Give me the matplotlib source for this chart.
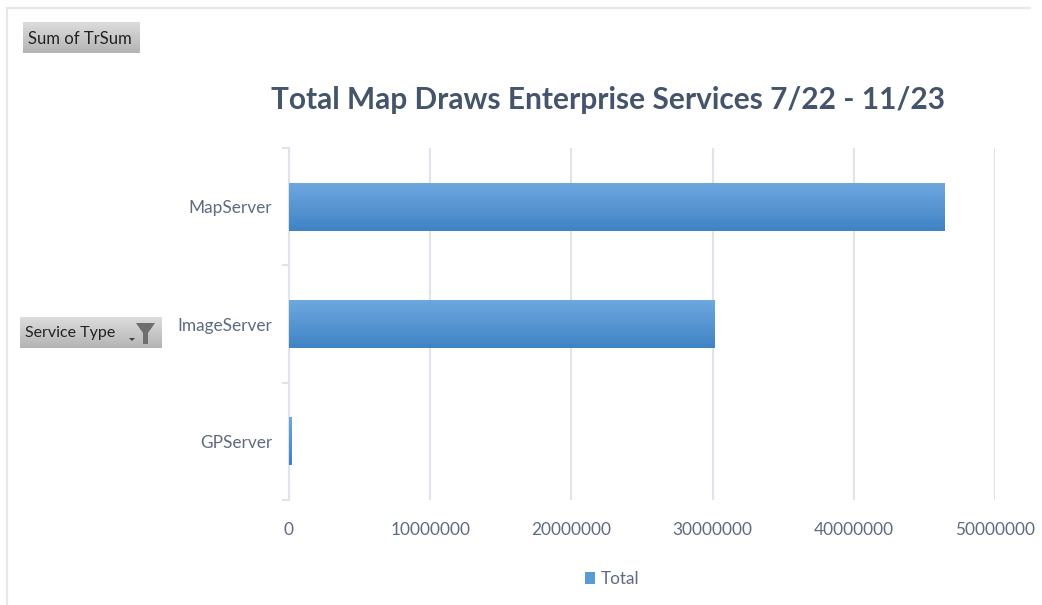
#!/usr/bin/env python3

import numpy as np
import matplotlib
matplotlib.use('Agg')
import matplotlib.pyplot as plt
from matplotlib.colors import LinearSegmentedColormap
from matplotlib.patches import Polygon, Rectangle
from matplotlib.lines import Line2D

W, H = 1042, 605

# Data
services = ['GPServer', 'ImageServer', 'MapServer']
trsum = [150000, 30100000, 46400000]
x_ticks = [0, 10000000, 20000000, 30000000, 40000000, 50000000]
title = 'Total Map Draws Enterprise Services 7/22 - 11/23'
series_name = 'Total'

TEXT = '#5d6b80'
GRID = '#dfe3ec'
bar_cmap = LinearSegmentedColormap.from_list('bar', ['#6fa8e0', '#3f83c4'])
btn_cmap = LinearSegmentedColormap.from_list('btn', ['#dcdcdc', '#b4b4b4'])
grad = np.linspace(0, 1, 64).reshape(-1, 1)

plt.rcParams['font.family'] = ['Lato', 'DejaVu Sans']


def px_rect(x0, y0, x1, y1):
    # pixel box (top-left origin) to figure fractions
    return [x0 / W, 1 - y1 / H, (x1 - x0) / W, (y1 - y0) / H]


fig = plt.figure(figsize=(W / 100, H / 100), dpi=100)
ax = fig.add_axes(px_rect(289, 148, 995, 500))

# Bars, with the vertical gradient clipped to each bar
bars = ax.barh(range(len(services)), trsum, height=0.41, color='none', zorder=3)
for b in bars:
    im = ax.imshow(grad, cmap=bar_cmap, aspect='auto', zorder=3,
                   extent=(b.get_x(), b.get_x() + b.get_width(),
                           b.get_y(), b.get_y() + b.get_height()))
    im.set_clip_path(b)

ax.set_xlim(0, 50000000)
ax.set_ylim(-0.5, len(services) - 0.5)

ax.set_xticks(x_ticks)
ax.set_xticklabels([str(v) for v in x_ticks])
ax.set_yticks(range(len(services)))
ax.set_yticklabels(services)
ax.set_yticks(np.arange(len(services) + 1) - 0.5, minor=True)

ax.tick_params(axis='x', length=0, pad=16, labelsize=12.4, colors=TEXT)
ax.tick_params(axis='y', which='major', length=0, pad=12, labelsize=12.4, colors=TEXT)
ax.tick_params(axis='y', which='minor', length=5, width=1.5, color=GRID)

ax.grid(True, axis='x', color=GRID, linewidth=1.5, zorder=0)
ax.set_axisbelow(True)
for side in ['top', 'right', 'bottom']:
    ax.spines[side].set_visible(False)
ax.spines['left'].set_color(GRID)
ax.spines['left'].set_linewidth(1.5)

fig.text(608 / W, 1 - 100 / H, title, ha='center', va='center',
         fontsize=21.5, fontweight='bold', color='#44546a')

# Legend
leg = fig.legend(handles=[Rectangle((0, 0), 1, 1, facecolor='#5b9bd5')],
                 labels=[series_name], loc='center',
                 bbox_to_anchor=(612 / W, 1 - 579 / H), frameon=False,
                 fontsize=12.4, labelcolor=TEXT, handlelength=0.6, handleheight=0.7,
                 handletextpad=0.3)

# Outer frame of the screenshot
fig.add_artist(Line2D([7 / W, 7 / W], [0, 1 - 8 / H], color='#e2e7ec', linewidth=1.5))
fig.add_artist(Line2D([7 / W, 1030 / W], [1 - 8 / H, 1 - 8 / H], color='#e2e7ec', linewidth=1.5))


# Pivot field buttons
def button(x0, y0, x1, y1, label, size):
    bax = fig.add_axes(px_rect(x0, y0, x1, y1))
    bax.imshow(grad, cmap=btn_cmap, aspect='auto')
    bax.axis('off')
    fig.text((x0 + 5) / W, 1 - ((y0 + y1) / 2 + 1) / H, label, ha='left', va='center',
             fontsize=size, color='#222222')


button(23, 22, 140, 53, 'Sum of TrSum', 12)
button(20, 317, 162, 348, 'Service Type', 11.5)

# Filter glyph on the Service Type button
funnel = [(136, 323), (155, 323), (148, 333), (148, 344), (143, 344), (143, 333)]
fig.add_artist(Polygon([(x / W, 1 - y / H) for x, y in funnel], closed=True,
                       transform=fig.transFigure, facecolor='#6e6e6e', edgecolor='none'))
arrow = [(129, 338), (135, 338), (132, 341)]
fig.add_artist(Polygon([(x / W, 1 - y / H) for x, y in arrow], closed=True,
                       transform=fig.transFigure, facecolor='#404040', edgecolor='none'))

fig.savefig('out.png', dpi=100)
